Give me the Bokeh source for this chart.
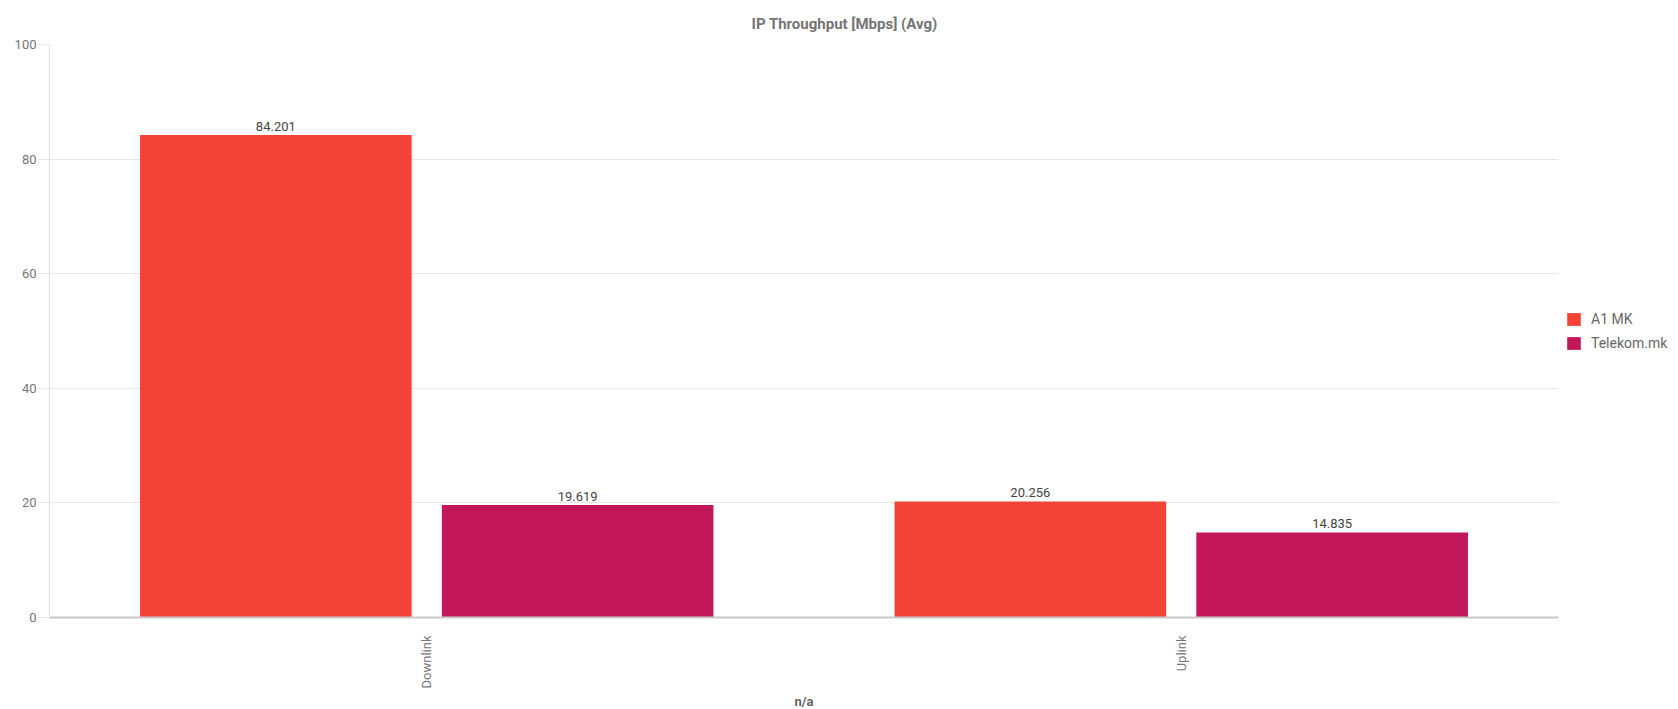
import math
from bokeh.plotting import figure
from bokeh.models import ColumnDataSource, FactorRange, Range1d, Legend, LegendItem, SingleIntervalTicker
from bokeh.transform import dodge
from bokeh.core.properties import value
from bokeh.embed import file_html
from bokeh.resources import INLINE

categories = ["Downlink", "Uplink"]
series_names = ["A1 MK", "Telekom.mk"]
a1_mk = [84.201, 20.256]
telekom_mk = [19.619, 14.835]
colors = ["#F44336", "#C2185B"]
title_text = "IP Throughput [Mbps] (Avg)"

FONT = "Roboto"

src = ColumnDataSource(data=dict(
    cat=categories,
    a1=a1_mk,
    tk=telekom_mk,
    a1_lbl=[f"{v:.3f}" for v in a1_mk],
    tk_lbl=[f"{v:.3f}" for v in telekom_mk],
))

p = figure(
    x_range=FactorRange(*categories, range_padding=0),
    y_range=Range1d(0, 100),
    frame_width=1509, frame_height=573,
    output_backend="svg", toolbar_location=None,
    min_border_left=49, min_border_right=120, min_border_top=44, min_border_bottom=90,
)
p.outline_line_color = None
p.background_fill_color = "white"
p.border_fill_color = "white"

p.title.text = title_text
p.title.align = "left"
p.title.offset = 702
p.title.text_font = FONT
p.title.text_font_size = "15px"
p.title.text_font_style = "bold"
p.title.text_color = "#757575"
p.title.standoff = 24

bw = 0.36
r1 = p.vbar(x=dodge("cat", -0.2, range=p.x_range), top="a1", width=bw, source=src,
            fill_color=colors[0], line_color=None)
r2 = p.vbar(x=dodge("cat", 0.2, range=p.x_range), top="tk", width=bw, source=src,
            fill_color=colors[1], line_color=None)

for off, fld in [(-0.2, "a1"), (0.2, "tk")]:
    p.text(x=dodge("cat", off, range=p.x_range), y=fld, text=fld + "_lbl", source=src,
           text_align="center", text_baseline="bottom", y_offset=-4,
           text_font=value(FONT), text_font_size="13px", text_color="#444444")

# y axis
p.yaxis.ticker = SingleIntervalTicker(interval=20)
p.yaxis.axis_line_color = "#e0e0e0"
p.yaxis.major_tick_out = 12
p.yaxis.major_tick_in = 0
p.yaxis.major_tick_line_color = "#e6e6e6"
p.yaxis.minor_tick_line_color = None
p.yaxis.major_label_standoff = 1
p.yaxis.major_label_text_font = FONT
p.yaxis.major_label_text_font_size = "13px"
p.yaxis.major_label_text_color = "#757575"

# x axis
p.xaxis.axis_line_color = "#c8c8c8"
p.xaxis.axis_line_width = 2
p.xaxis.major_tick_line_color = None
p.xaxis.minor_tick_line_color = None
p.xaxis.major_label_orientation = math.pi / 2
p.xaxis.major_label_standoff = 12
p.xaxis.major_label_text_font = FONT
p.xaxis.major_label_text_font_size = "13px"
p.xaxis.major_label_text_color = "#757575"
p.xaxis.axis_label = "n/a"
p.xaxis.axis_label_text_font = FONT
p.xaxis.axis_label_text_font_size = "13px"
p.xaxis.axis_label_text_font_style = "bold"
p.xaxis.axis_label_text_color = "#666666"
p.xaxis.axis_label_standoff = 3

p.xgrid.grid_line_color = None
p.ygrid.grid_line_color = "#e6e6e6"

legend = Legend(items=[LegendItem(label=series_names[0], renderers=[r1]),
                       LegendItem(label=series_names[1], renderers=[r2])],
                location="center_left")
legend.glyph_width = 17
legend.glyph_height = 16
legend.label_standoff = 9
legend.spacing = 8
legend.padding = 0
legend.margin = 7
legend.border_line_color = None
legend.background_fill_alpha = 0
legend.label_text_font = FONT
legend.label_text_font_size = "14px"
legend.label_text_color = "#666666"
p.add_layout(legend, "right")

open("out.html", "w").write(file_html(p, INLINE))
